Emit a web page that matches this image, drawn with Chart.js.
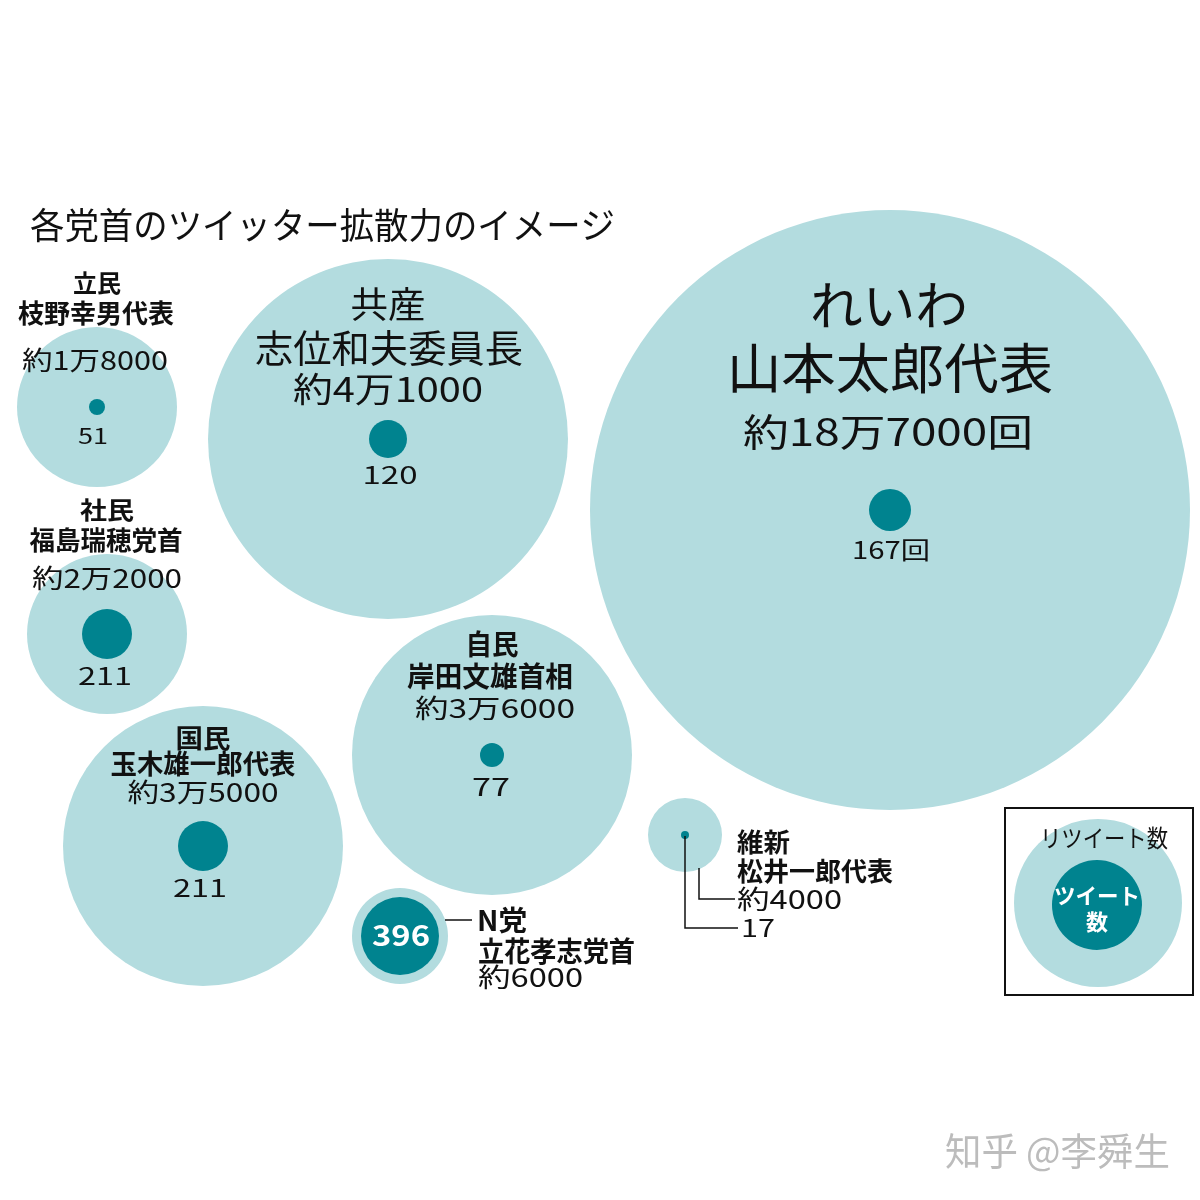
<!DOCTYPE html>
<html lang="ja">
<head>
<meta charset="utf-8">
<title>各党首のツイッター拡散力のイメージ</title>
<script src="https://cdn.jsdelivr.net/npm/chart.js@4/dist/chart.umd.min.js"></script>
<style>
  html, body { margin: 0; padding: 0; background: #fff; }
  #wrap { width: 1200px; height: 1200px; }
</style>
</head>
<body>
<div id="wrap"><canvas id="chart" width="1200" height="1200"></canvas></div>
<script>
// データ
const parties = ['立民', '共産', 'れいわ', '社民', '自民', '国民', 'N党', '維新'];
const leaders = ['枝野幸男代表', '志位和夫委員長', '山本太郎代表', '福島瑞穂党首', '岸田文雄首相', '玉木雄一郎代表', '立花孝志党首', '松井一郎代表'];
const retweetLabels = ['約1万8000', '約4万1000', '約18万7000回', '約2万2000', '約3万6000', '約3万5000', '約6000', '約4000'];
const tweetCounts = [51, 120, 167, 211, 77, 211, 396, 17];
const tweetUnits = ['', '', '回', '', '', '', '', ''];
// 円の中心と半径（リツイート数 = 外側の円、ツイート数 = 内側の円）
const centerX = [97, 388, 890, 107, 492, 203, 400, 685];
const centerY = [407, 439, 510, 634, 755, 846, 936, 835];
const retweetRadius = [80, 180, 300, 80, 140, 140, 48, 37];
const tweetRadius = [8, 19, 21, 25, 12, 25, 39, 4];

const title = '各党首のツイッター拡散力のイメージ';
const legendOuterLabel = 'リツイート数';
const legendInnerLabel = ['ツイート', '数'];
const credit = '知乎 @李舜生';

const lightColor = '#b3dcdf';
const darkColor = '#00838f';
const fontFamily = '"Noto Sans CJK JP", "Noto Sans", sans-serif';

// ラベル配置: [index, 種類, x, y, サイズ, 太さ, 幅, 揃え, 色]
const textLayout = [
    [0, 'party', 97, 283, 24, 700, 48],
    [0, 'leader', 96, 313, 26, 700, 156],
    [0, 'retweet', 95, 360, 26, 400, 146],
    [0, 'tweet', 93, 436, 21, 400, 30],
    [1, 'party', 388, 304, 36, 400, 75],
    [1, 'leader', 389, 348, 38, 400, 268],
    [1, 'retweet', 388, 389, 34, 400, 190],
    [1, 'tweet', 390, 475, 24, 400, 55],
    [2, 'party', 889, 305, 52, 400, 158],
    [2, 'leader', 890, 368, 54, 400, 326],
    [2, 'retweet', 888, 432, 38, 400, 290],
    [2, 'tweet', 891, 550, 24, 400, 78],
    [3, 'party', 107, 510, 24, 700, 54],
    [3, 'leader', 106, 540, 26, 700, 153],
    [3, 'retweet', 107, 578, 26, 400, 150],
    [3, 'tweet', 105, 676, 24, 400, 54],
    [4, 'party', 492, 644, 28, 700, 53],
    [4, 'leader', 490, 676, 28, 700, 166],
    [4, 'retweet', 495, 708, 26, 400, 160],
    [4, 'tweet', 491, 787, 24, 400, 38],
    [5, 'party', 203, 738, 26, 700, 55],
    [5, 'leader', 203, 764, 27, 700, 185],
    [5, 'retweet', 203, 792, 26, 400, 151],
    [5, 'tweet', 200, 888, 24, 400, 54],
    [6, 'party', 477, 920, 28, 700, 50, 'left'],
    [6, 'leader', 478, 951, 28, 700, 157, 'left'],
    [6, 'retweet', 478, 977, 26, 400, 105, 'left'],
    [6, 'tweet', 401, 935, 28, 700, 58, 'center', '#fff'],
    [7, 'party', 737, 842, 26, 700, 53, 'left'],
    [7, 'leader', 737, 871, 26, 700, 156, 'left'],
    [7, 'retweet', 737, 899, 26, 400, 105, 'left'],
    [7, 'tweet', 741, 928, 24, 400, 34, 'left'],
];

// 引き出し線
const leaderLines = [
    [[445, 920], [472, 920]],
    [[685, 836], [685, 928], [738, 928]],
    [[699, 868], [699, 899], [735, 899]],
];

// 凡例
const legendBox = { x1: 1005, y1: 808, x2: 1193, y2: 995 };
const legendOuter = { x: 1098, y: 903, r: 84 };
const legendInner = { x: 1097, y: 905, r: 45 };

function drawText(ctx, text, x, y, size, weight, width, align, color) {
    ctx.save();
    ctx.font = `${weight} ${size}px ${fontFamily}`;
    ctx.fillStyle = color || '#111';
    ctx.textBaseline = 'middle';
    ctx.textAlign = align || 'center';
    const w = ctx.measureText(text).width;
    const sx = width ? width / w : 1;
    ctx.translate(x, y);
    ctx.scale(sx, 1);
    ctx.fillText(text, 0, 0);
    ctx.restore();
}

function labelText(i, kind) {
    if (kind === 'party') return parties[i];
    if (kind === 'leader') return leaders[i];
    if (kind === 'retweet') return retweetLabels[i];
    return String(tweetCounts[i]) + tweetUnits[i];
}

const labelsPlugin = {
    id: 'labels',
    afterDatasetsDraw(chart) {
        const ctx = chart.ctx;

        // タイトル
        drawText(ctx, title, 30, 225, 36, 400, 585, 'left', '#111');

        // 凡例の枠
        ctx.save();
        ctx.strokeStyle = '#111';
        ctx.lineWidth = 2;
        ctx.strokeRect(legendBox.x1, legendBox.y1, legendBox.x2 - legendBox.x1, legendBox.y2 - legendBox.y1);
        ctx.restore();

        // 各ラベル
        textLayout.forEach(row => {
            const [i, kind, x, y, size, weight, width, align, color] = row;
            drawText(ctx, labelText(i, kind), x, y, size, weight, width, align, color);
        });

        // 引き出し線
        ctx.save();
        ctx.strokeStyle = '#111';
        ctx.lineWidth = 1.5;
        leaderLines.forEach(pts => {
            ctx.beginPath();
            ctx.moveTo(pts[0][0], pts[0][1]);
            for (let k = 1; k < pts.length; k++) ctx.lineTo(pts[k][0], pts[k][1]);
            ctx.stroke();
        });
        ctx.restore();

        // 凡例の文字
        drawText(ctx, legendOuterLabel, 1104, 838, 24, 400, 128, 'center', '#111');
        drawText(ctx, legendInnerLabel[0], 1097, 896, 22, 700, 86, 'center', '#fff');
        drawText(ctx, legendInnerLabel[1], 1097, 922, 22, 700, null, 'center', '#fff');

        // クレジット
        drawText(ctx, credit, 945, 1151, 38, 400, 225, 'left', '#bcbcbc');
    }
};

const outerPoints = parties.map((p, i) => ({ x: centerX[i], y: centerY[i], r: retweetRadius[i] }));
const innerPoints = parties.map((p, i) => ({ x: centerX[i], y: centerY[i], r: tweetRadius[i] }));

const ctx = document.getElementById('chart').getContext('2d');
new Chart(ctx, {
    type: 'bubble',
    data: {
        datasets: [
            {
                label: 'ツイート数',
                data: innerPoints,
                backgroundColor: darkColor,
                borderWidth: 0,
                order: 0,
            },
            {
                label: 'リツイート数',
                data: outerPoints,
                backgroundColor: lightColor,
                borderWidth: 0,
                order: 2,
            },
            {
                label: '凡例ツイート',
                data: [legendInner],
                backgroundColor: darkColor,
                borderWidth: 0,
                order: 0,
            },
            {
                label: '凡例リツイート',
                data: [legendOuter],
                backgroundColor: lightColor,
                borderWidth: 0,
                order: 2,
            },
        ],
    },
    options: {
        responsive: false,
        animation: false,
        events: [],
        layout: { padding: 0, autoPadding: false },
        plugins: {
            legend: { display: false },
            tooltip: { enabled: false },
        },
        scales: {
            x: { type: 'linear', min: 0, max: 1200, display: false },
            y: { type: 'linear', min: 0, max: 1200, reverse: true, display: false },
        },
    },
    plugins: [labelsPlugin],
});
</script>
</body>
</html>
